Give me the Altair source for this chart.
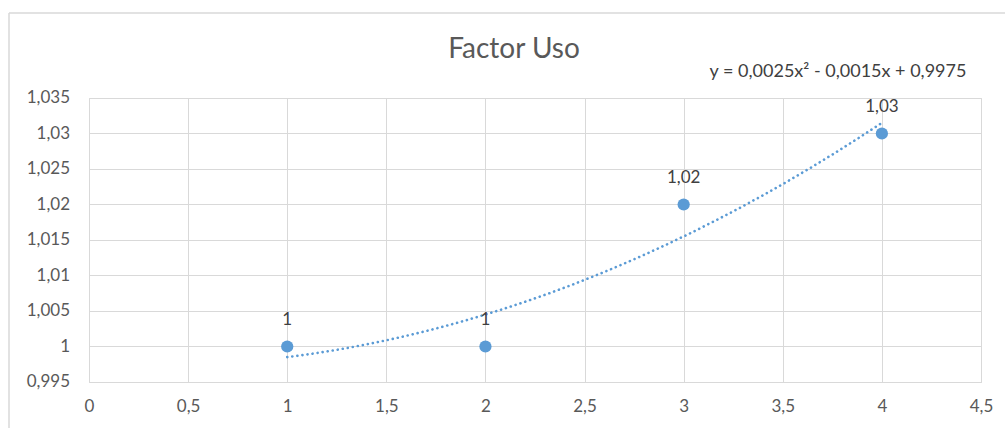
import altair as alt
import pandas as pd

# Measured usage factor per step
x_vals = [1, 2, 3, 4]
y_vals = [1.0, 1.0, 1.02, 1.03]
point_labels = ["1", "1", "1,02", "1,03"]

x_ticks = [0, 0.5, 1, 1.5, 2, 2.5, 3, 3.5, 4, 4.5]
y_ticks = [0.995, 1.0, 1.005, 1.01, 1.015, 1.02, 1.025, 1.03, 1.035]
y_tick_labels = ["0,995", "1", "1,005", "1,01", "1,015", "1,02", "1,025", "1,03", "1,035"]

title_text = "Factor Uso"
equation_text = "y = 0,0025x² - 0,0015x + 0,9975"

df = pd.DataFrame({"x": x_vals, "y": y_vals, "label": point_labels})
ytick_df = pd.DataFrame({"y": y_ticks, "label": y_tick_labels})

FONT = "Lato"
BLUE = "#5B9BD5"
GRID = "#D9D9D9"
W, H = 892, 284

x_scale = alt.Scale(domain=[0, 4.5], nice=False, zero=False)
y_scale = alt.Scale(domain=[0.995, 1.035], nice=False, zero=False)

comma = "replace(format(datum.value, '.3~f'), '.', ',')"

x_axis = alt.Axis(
    values=x_ticks, labelExpr=comma, title=None, grid=True, ticks=False,
    domain=True, domainColor=GRID, gridColor=GRID, labelPadding=16,
    labelOverlap=False, labelFlush=False, labelFontSize=17,
    labelColor="#595959", labelFont=FONT)
y_axis = alt.Axis(
    values=y_ticks, labels=False, title=None, grid=True, ticks=False,
    domain=False, gridColor=GRID)

base = alt.Chart(df)

points = base.mark_circle(size=150, color=BLUE, opacity=1).encode(
    x=alt.X("x:Q", scale=x_scale, axis=x_axis),
    y=alt.Y("y:Q", scale=y_scale, axis=y_axis),
)

labels = base.mark_text(dy=-27, fontSize=17, color="#404040", font=FONT).encode(
    x=alt.X("x:Q", scale=x_scale, axis=x_axis),
    y=alt.Y("y:Q", scale=y_scale, axis=y_axis),
    text="label:N",
)

# Y tick labels with decimal commas, placed through the y scale
y_labels = alt.Chart(ytick_df).mark_text(
    fontSize=17, color="#595959", font=FONT, align="right", baseline="middle"
).encode(
    x=alt.value(-19),
    y=alt.Y("y:Q", scale=y_scale, axis=y_axis),
    text="label:N",
)

# Second-order polynomial trendline fitted to the points
trend = base.transform_regression("x", "y", method="poly", order=2).mark_line(
    color=BLUE, strokeWidth=2.6, strokeDash=[0.1, 5], strokeCap="round"
).encode(
    x=alt.X("x:Q", scale=x_scale, axis=x_axis),
    y=alt.Y("y:Q", scale=y_scale, axis=y_axis),
)

title = alt.Chart(pd.DataFrame({"t": [title_text]})).mark_text(
    fontSize=28, color="#595959", font=FONT, baseline="middle", align="center"
).encode(x=alt.value(425), y=alt.value(-48), text="t:N")

equation = alt.Chart(pd.DataFrame({"t": [equation_text]})).mark_text(
    fontSize=18, color="#404040", font=FONT, baseline="middle", align="center"
).encode(x=alt.value(749), y=alt.value(-26), text="t:N")

# Chart-area frame (left and top edges)
frame_left = alt.Chart(pd.DataFrame({"a": [0]})).mark_rule(color=GRID, strokeWidth=1.5).encode(
    x=alt.value(-80), y=alt.value(-85), y2=alt.value(340))
frame_top = alt.Chart(pd.DataFrame({"a": [0]})).mark_rule(color=GRID, strokeWidth=1.5).encode(
    x=alt.value(-80), x2=alt.value(940), y=alt.value(-85))

chart = alt.layer(points, frame_left, frame_top, trend, labels, y_labels, title, equation).properties(
    width=W, height=H,
    autosize=alt.AutoSizeParams(type="none"),
    padding={"left": 89, "top": 98, "right": 24, "bottom": 46},
    background="white",
).configure_view(stroke=GRID, strokeWidth=1)

chart.save("out.html", embed_options={"renderer": "svg", "actions": False})
